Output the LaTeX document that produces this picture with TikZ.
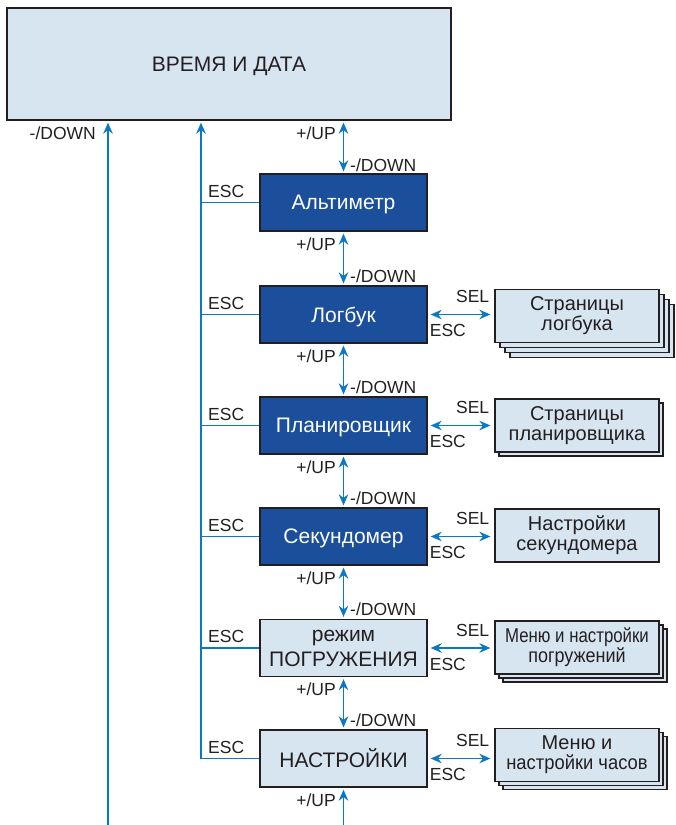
\documentclass[tikz,border=0pt]{standalone}
\usepackage{fontspec}
\usepackage{graphicx}
\setmainfont{Liberation Sans}
\usetikzlibrary{arrows.meta}
\definecolor{lb}{HTML}{D7E5F1}
\definecolor{db}{HTML}{1B4F9C}
\definecolor{ab}{HTML}{0B78C4}
\definecolor{tx}{HTML}{231F20}
\begin{document}
\begin{tikzpicture}[x=1pt,y=-1pt,
 box/.style={draw=tx, line width=1.3pt, fill=lb, minimum width=167pt, minimum height=57pt, inner sep=0pt, align=center, font=\fontsize{21}{25}\selectfont, text=tx},
 one/.style={text depth=0pt},
 dbox/.style={box, one, fill=db, text=white},
 sbox/.style={draw=tx, line width=1.2pt, fill=lb, minimum width=164pt, minimum height=53pt, inner sep=0pt, align=center, font=\fontsize{20}{20}\selectfont, text=tx},
 lbl/.style={font=\fontsize{17.5}{17.5}\selectfont, text=tx, inner sep=0pt},
 tip/.tip={Stealth[length=11pt,width=9.5pt]},
 arr/.style={draw=ab, line width=1.6pt, -tip},
 darr/.style={draw=ab, line width=1.6pt, tip-tip},
 ln/.style={draw=ab, line width=1.3pt}]
\useasboundingbox (0,0) rectangle (676,825);
% top box
\node[box, one, minimum width=444pt, minimum height=112pt] (top) at (229,64) {ВРЕМЯ И ДАТА};
% main boxes
\node[dbox] (alt) at (343.5,202.5) {Альтиметр};
\node[dbox] (log) at (343.5,314.5) {Логбук};
\node[dbox] (pln) at (343.5,425.5) {Планировщик};
\node[dbox] (stw) at (343.5,536.5) {Секундомер};
\node[box] (div) at (343.5,648) {режим\\ПОГРУЖЕНИЯ};
\node[box, one] (set) at (343.5,758.5) {НАСТРОЙКИ};
% side boxes with stacks
\node[sbox] (logp3) at (592,331) {};
\node[sbox] (logp2) at (587,326) {};
\node[sbox] (logp1) at (582,321) {};
\node[sbox] (logp) at (577,316) {Страницы\\логбука};
\node[sbox] (plnp1) at (581,429.5) {};
\node[sbox] (plnp) at (577,425.5) {Страницы\\планировщика};
\node[sbox] (stwp) at (577,535.5) {Настройки\\секундомера};
\node[sbox] (divp2) at (585,655.5) {};
\node[sbox] (divp1) at (581,651.5) {};
\node[sbox] (divp) at (577,647.5) {\scalebox{0.84}[1]{Меню и настройки}\\\scalebox{0.9}[1]{погружений}};
\node[sbox] (setp2) at (585,763) {};
\node[sbox] (setp1) at (581,759) {};
\node[sbox] (setp) at (577,755) {Меню и\\\scalebox{0.92}[1]{настройки часов}};
% vertical up/down arrows
\draw[darr, shorten <=2pt, shorten >=2pt] (alt.north |- top.south) -- (alt.north);
\draw[darr, shorten <=2pt, shorten >=2pt] (alt.south) -- (log.north);
\draw[darr, shorten <=2pt, shorten >=2pt] (log.south) -- (pln.north);
\draw[darr, shorten <=2pt, shorten >=2pt] (pln.south) -- (stw.north);
\draw[darr, shorten <=2pt, shorten >=2pt] (stw.south) -- (div.north);
\draw[darr, shorten <=2pt, shorten >=2pt] (div.south) -- (set.north);
\coordinate (bot) at (343.5,825);
\draw[arr, shorten >=2pt] (bot) -- (set.south);
% up/down labels
\node[lbl, anchor=east] (u0) at (336,133) {+/UP};
\node[lbl, anchor=west] (d1) at (350,165) {-/DOWN};
\node[lbl, anchor=east] (u1) at (336,244) {+/UP};
\node[lbl, anchor=west] (d2) at (350,276) {-/DOWN};
\node[lbl, anchor=east] (u2) at (336,356) {+/UP};
\node[lbl, anchor=west] (d3) at (350,387) {-/DOWN};
\node[lbl, anchor=east] (u3) at (336,467) {+/UP};
\node[lbl, anchor=west] (d4) at (350,498) {-/DOWN};
\node[lbl, anchor=east] (u4) at (336,578) {+/UP};
\node[lbl, anchor=west] (d5) at (350,609) {-/DOWN};
\node[lbl, anchor=east] (u5) at (336,689) {+/UP};
\node[lbl, anchor=west] (d6) at (350,720) {-/DOWN};
\node[lbl, anchor=east] (u6) at (336,800) {+/UP};
% left -/DOWN arrow
\coordinate (l0) at (108,825);
\draw[arr, shorten >=2pt] (l0) -- (l0 |- top.south);
\node[lbl, anchor=east] (d0) at (96,133) {-/DOWN};
% ESC bus
\coordinate (ex) at (201,0);
\draw[arr, shorten >=2pt] (ex |- set.west) -- (ex |- top.south);
\foreach \b in {alt,log,pln,stw,div,set}{
  \draw[ln] (ex |- \b.west) -- (\b.west);
}
\node[lbl, anchor=west] (e1) at (208,191.5) {ESC};
\node[lbl, anchor=west] (e2) at (208,303) {ESC};
\node[lbl, anchor=west] (e3) at (208,414) {ESC};
\node[lbl, anchor=west] (e4) at (208,525) {ESC};
\node[lbl, anchor=west] (e5) at (208,636.5) {ESC};
\node[lbl, anchor=west] (e6) at (208,747) {ESC};
% SEL/ESC side arrows
\foreach \b/\p in {log/logp,pln/plnp,stw/stwp,div/divp,set/setp}{
  \draw[darr, shorten <=3pt, shorten >=4pt] (\b.east) -- (\b.east -| \p.west);
  \node[lbl, anchor=east] at ([xshift=-5pt,yshift=18pt]\b.east -| \p.west) {SEL};
  \node[lbl, anchor=west] at ([xshift=2pt,yshift=-16pt]\b.east) {ESC};
}
\end{tikzpicture}
\end{document}
